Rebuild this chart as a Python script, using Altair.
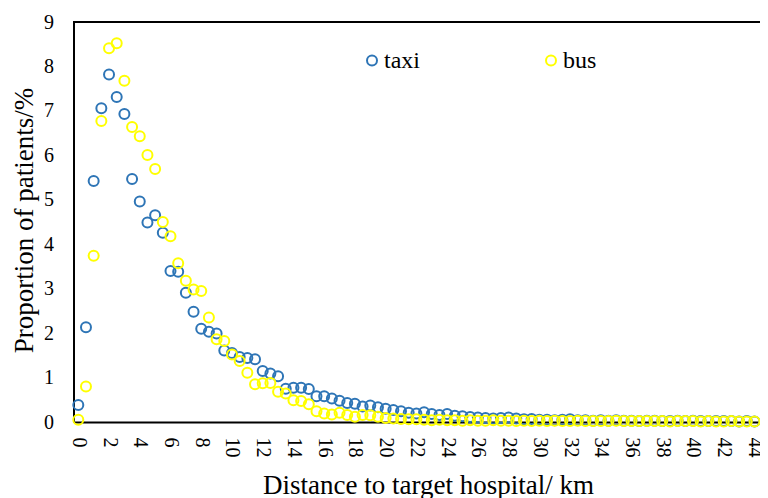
import altair as alt
import pandas as pd

distance_km = [0, 0.5, 1, 1.5, 2, 2.5, 3, 3.5, 4, 4.5, 5, 5.5, 6, 6.5, 7, 7.5, 8, 8.5, 9, 9.5,
               10, 10.5, 11, 11.5, 12, 12.5, 13, 13.5, 14, 14.5, 15, 15.5, 16, 16.5, 17, 17.5,
               18, 18.5, 19, 19.5, 20, 20.5, 21, 21.5, 22, 22.5, 23, 23.5, 24, 24.5, 25, 25.5,
               26, 26.5, 27, 27.5, 28, 28.5, 29, 29.5, 30, 30.5, 31, 31.5, 32, 32.5, 33, 33.5,
               34, 34.5, 35, 35.5, 36, 36.5, 37, 37.5, 38, 38.5, 39, 39.5, 40, 40.5, 41, 41.5,
               42, 42.5, 43, 43.5, 44]

taxi = [0.38, 2.13, 5.42, 7.06, 7.82, 7.31, 6.93, 5.47, 4.96, 4.49, 4.65, 4.26, 3.40, 3.38,
        2.91, 2.48, 2.10, 2.03, 1.99, 1.61, 1.55, 1.46, 1.44, 1.41, 1.15, 1.09, 1.03, 0.75,
        0.77, 0.77, 0.74, 0.58, 0.58, 0.53, 0.48, 0.43, 0.41, 0.35, 0.37, 0.33, 0.30, 0.27,
        0.24, 0.21, 0.19, 0.22, 0.18, 0.16, 0.18, 0.14, 0.13, 0.11, 0.10, 0.09, 0.08, 0.09,
        0.10, 0.08, 0.06, 0.07, 0.05, 0.05, 0.04, 0.05, 0.06, 0.04, 0.04, 0.03, 0.04, 0.03,
        0.04, 0.03, 0.03, 0.02, 0.03, 0.03, 0.02, 0.02, 0.03, 0.02, 0.03, 0.02, 0.02, 0.02,
        0.02, 0.02, 0.01, 0.02, 0.01]

bus = [0.05, 0.80, 3.74, 6.77, 8.41, 8.52, 7.68, 6.64, 6.43, 6.01, 5.69, 4.50, 4.18, 3.57,
       3.18, 2.98, 2.95, 2.35, 1.86, 1.82, 1.52, 1.37, 1.11, 0.85, 0.87, 0.88, 0.68, 0.64,
       0.49, 0.47, 0.40, 0.24, 0.19, 0.17, 0.21, 0.16, 0.12, 0.16, 0.15, 0.12, 0.09, 0.08,
       0.07, 0.06, 0.06, 0.05, 0.04, 0.05, 0.04, 0.04, 0.03, 0.04, 0.03, 0.03, 0.04, 0.03,
       0.03, 0.02, 0.03, 0.02, 0.03, 0.02, 0.03, 0.02, 0.02, 0.03, 0.02, 0.02, 0.02, 0.02,
       0.03, 0.02, 0.02, 0.02, 0.02, 0.02, 0.02, 0.01, 0.02, 0.02, 0.02, 0.01, 0.02, 0.01,
       0.01, 0.02, 0.01, 0.01, 0.01]

series_names = ["taxi", "bus"]
series_colors = ["#2E75B6", "#FFFF00"]
x_ticks = [0, 2, 4, 6, 8, 10, 12, 14, 16, 18, 20, 22, 24, 26, 28, 30, 32, 34, 36, 38, 40, 42, 44]
y_ticks = [0, 1, 2, 3, 4, 5, 6, 7, 8, 9]

rows = []
for name, vals in (("taxi", taxi), ("bus", bus)):
    for d, v in zip(distance_km, vals):
        rows.append({"distance": d, "proportion": v, "mode": name})
df = pd.DataFrame(rows)

FONT = "Liberation Serif, Times New Roman, DejaVu Serif, serif"
W, H = 686.5, 400

points = alt.Chart(df).mark_point(filled=False, size=100, strokeWidth=2, opacity=1).encode(
    x=alt.X("distance:Q",
            scale=alt.Scale(domain=[-0.312, 44.36], nice=False, zero=False),
            axis=alt.Axis(values=x_ticks, labelAngle=90, labelFont=FONT, labelFontSize=20,
                          labelColor="black", labelPadding=15, ticks=False, grid=False,
                          domainColor="black", domainWidth=2, labelFlush=False,
                          labelOverlap=False,
                          title="Distance to target hospital/ km", titleFont=FONT,
                          titleFontSize=27, titleFontWeight="normal", titleColor="black",
                          titleX=354.5, titleY=71, titleBaseline="alphabetic",
                          titleAlign="center")),
    y=alt.Y("proportion:Q",
            scale=alt.Scale(domain=[0, 9], nice=False),
            axis=alt.Axis(values=y_ticks, labelFont=FONT, labelFontSize=20,
                          labelColor="black", labelPadding=20, ticks=False, grid=False,
                          domainColor="black", domainWidth=2, labelFlush=False,
                          title="Proportion of patients/%", titleFont=FONT,
                          titleFontSize=27, titleFontWeight="normal", titleColor="black",
                          titleX=-41.5, titleY=198, titleAngle=-90,
                          titleBaseline="alphabetic", titleAlign="center")),
    color=alt.Color("mode:N",
                    scale=alt.Scale(domain=series_names, range=series_colors),
                    legend=alt.Legend(title=None, orient="none", legendX=286.5, legendY=26.5,
                                      direction="horizontal", columns=2, columnPadding=119,
                                      symbolType="circle", symbolSize=100,
                                      symbolStrokeWidth=2, symbolFillColor="white",
                                      labelFont=FONT, labelFontSize=24, labelColor="black",
                                      labelOffset=0, padding=0)),
)

top_border = alt.Chart(df).mark_rule(color="black", strokeWidth=2).encode(
    x=alt.value(0), x2=alt.value(W), y=alt.value(0)
)

chart = alt.layer(points, top_border).properties(
    width=W, height=H,
    autosize=alt.AutoSizeParams(type="none"),
    padding={"left": 65.5, "top": 14, "right": 0, "bottom": 76},
).configure_view(stroke=None).configure(background="white")

chart.save("out.html", embed_options={"renderer": "svg", "actions": False})
